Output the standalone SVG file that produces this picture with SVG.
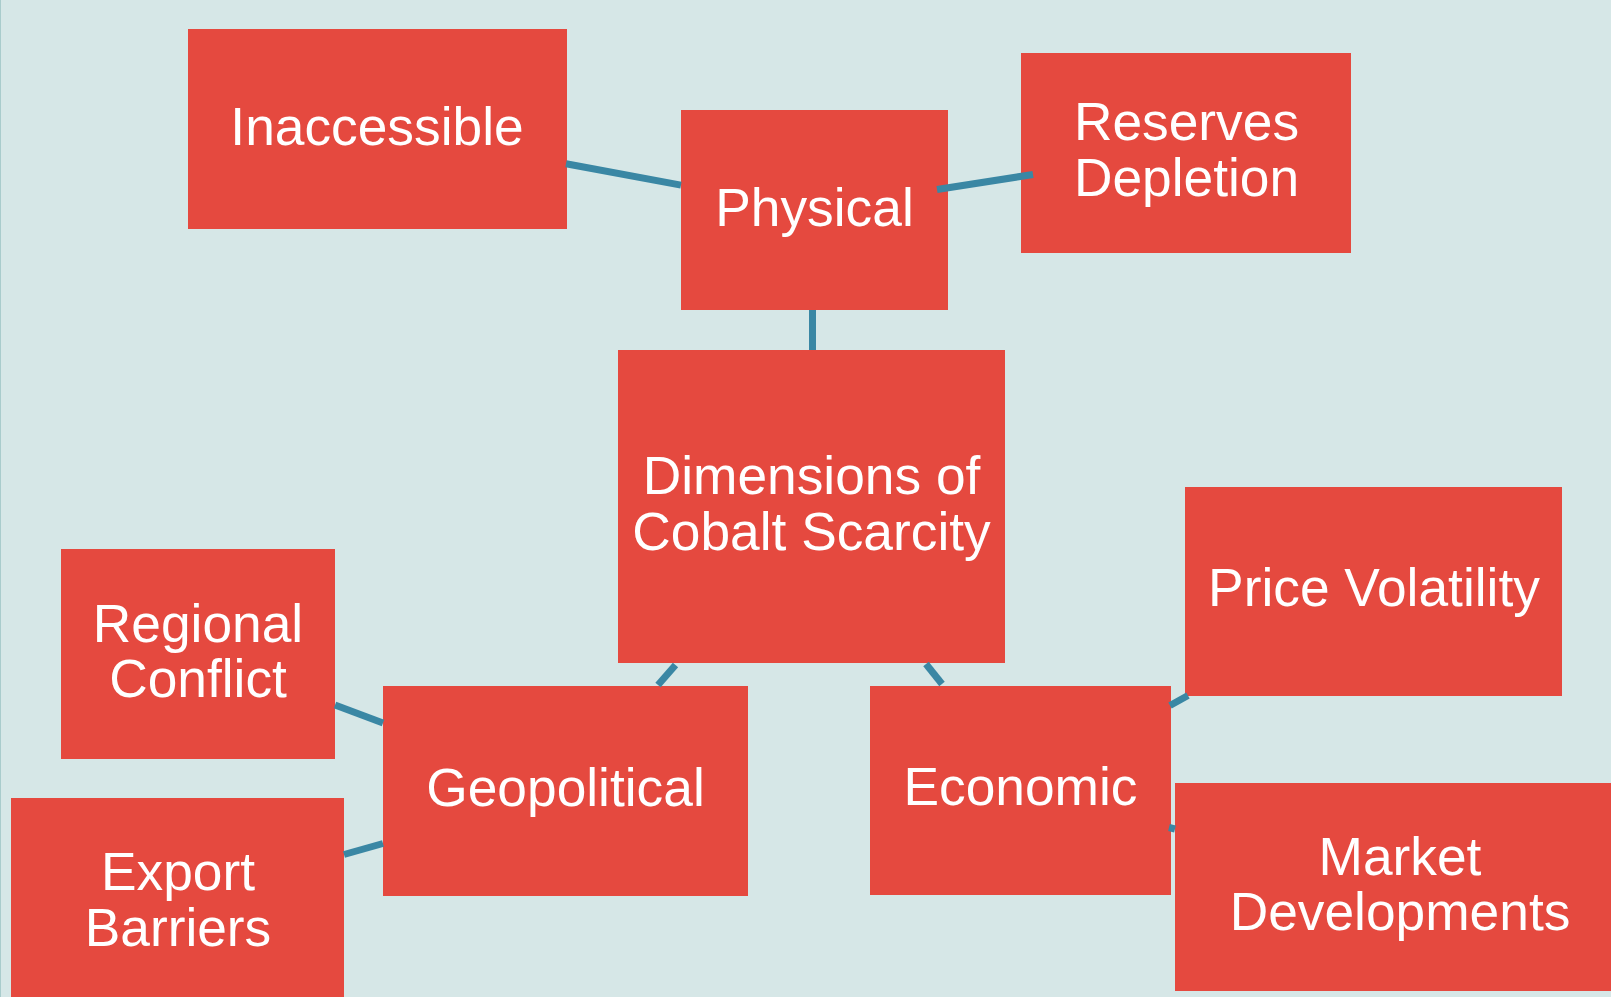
<svg xmlns="http://www.w3.org/2000/svg" width="1611" height="997" viewBox="0 0 1611 997">
  <style>
    .box { fill: #e5493f; }
    .label { fill: #ffffff; font-family: "Liberation Sans", Arial, sans-serif; font-size: 53.3px; text-anchor: middle; }
    .link { stroke: #3a87a4; stroke-width: 7; fill: none; stroke-linecap: butt; }
  </style>

  <!-- canvas -->
  <rect x="0" y="0" width="1611" height="997" fill="#d6e7e7"/>
  <line x1="0.5" y1="0" x2="0.5" y2="997" stroke="#a9cccc" stroke-width="1"/>

  <!-- nodes -->
  <g id="node-inaccessible">
    <rect class="box" x="188" y="29" width="379" height="200"/>
    <text class="label" x="377" y="145">Inaccessible</text>
  </g>
  <g id="node-physical">
    <rect class="box" x="681" y="110" width="267" height="200"/>
    <text class="label" x="814.5" y="226">Physical</text>
  </g>
  <g id="node-reserves">
    <rect class="box" x="1021" y="53" width="330" height="200"/>
    <text class="label" x="1186.5" y="140">Reserves</text>
    <text class="label" x="1186.5" y="195.7">Depletion</text>
  </g>
  <g id="node-root">
    <rect class="box" x="618" y="350" width="387" height="313"/>
    <text class="label" x="811.5" y="494">Dimensions of</text>
    <text class="label" x="811.5" y="550">Cobalt Scarcity</text>
  </g>
  <g id="node-geopolitical">
    <rect class="box" x="383" y="686" width="365" height="210"/>
    <text class="label" x="565.5" y="805.7">Geopolitical</text>
  </g>
  <g id="node-regional">
    <rect class="box" x="61" y="549" width="274" height="210"/>
    <text class="label" x="198" y="641.7">Regional</text>
    <text class="label" x="198" y="697.3">Conflict</text>
  </g>
  <g id="node-export">
    <rect class="box" x="11" y="798" width="333" height="210"/>
    <text class="label" x="178" y="890">Export</text>
    <text class="label" x="178" y="946">Barriers</text>
  </g>
  <g id="node-economic">
    <rect class="box" x="870" y="686" width="301" height="209"/>
    <text class="label" x="1020.5" y="805">Economic</text>
  </g>
  <g id="node-price">
    <rect class="box" x="1185" y="487" width="377" height="209"/>
    <text class="label" x="1374" y="606">Price Volatility</text>
  </g>
  <g id="node-market">
    <rect class="box" x="1175" y="783" width="450" height="208"/>
    <text class="label" x="1400" y="875">Market</text>
    <text class="label" x="1400" y="930">Developments</text>
  </g>

  <!-- connectors -->
  <g id="connectors">
    <line class="link" x1="566" y1="163.7" x2="681" y2="185.1"/>
    <line class="link" x1="937" y1="189.5" x2="1033" y2="174.5"/>
    <line class="link" x1="812.5" y1="310" x2="812.5" y2="350"/>
    <line class="link" x1="675.5" y1="665" x2="658" y2="685"/>
    <line class="link" x1="926" y1="664" x2="942" y2="684"/>
    <line class="link" x1="335" y1="705" x2="383" y2="723"/>
    <line class="link" x1="344" y1="854.5" x2="383" y2="843.5"/>
    <line class="link" x1="1170" y1="705.5" x2="1188" y2="695.5"/>
    <line class="link" x1="1169" y1="827.5" x2="1175" y2="829"/>
  </g>
</svg>
